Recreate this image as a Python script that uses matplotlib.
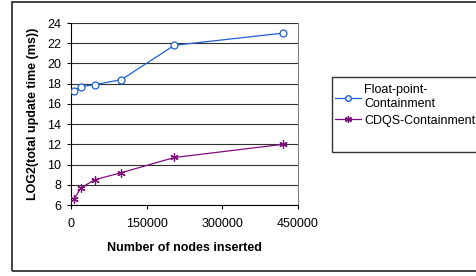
import matplotlib.pyplot as plt
from matplotlib.patches import Rectangle
from matplotlib.lines import Line2D

plt.rcParams['font.family'] = ['Liberation Sans', 'DejaVu Sans']

# dados
nodes = [6000, 20000, 47000, 100000, 205000, 420000]
float_point = [17.3, 17.7, 17.9, 18.4, 21.8, 23.0]
cdqs = [6.6, 7.7, 8.5, 9.2, 10.7, 12.0]

xticks = [0, 150000, 300000, 450000]
yticks = [6, 8, 10, 12, 14, 16, 18, 20, 22, 24]

fig = plt.figure(figsize=(4.77, 2.76), dpi=100)
ax = fig.add_axes([0.1488, 0.2572, 0.476, 0.6594])

c_blue = "#1f5fcf"
c_purple = "#7d0f7d"

ax.plot(nodes, float_point, color=c_blue, lw=0.9, marker="o", ms=5,
        mfc="white", mec=c_blue, mew=0.9, zorder=3)
ax.plot(nodes, cdqs, color=c_purple, lw=0.9, marker=(6, 2, 0), ms=6,
        mec=c_purple, mew=0.9, zorder=3)

ax.set_xlim(0, 450000)
ax.set_ylim(6, 24)
ax.set_xticks(xticks)
ax.set_yticks(yticks)
ax.set_xticklabels([str(v) for v in xticks])
ax.tick_params(labelsize=9, length=3, width=0.8, color="black")
ax.tick_params(axis="x", pad=6)
ax.tick_params(axis="y", pad=4)
ax.yaxis.grid(True, color="#303030", lw=0.8)
ax.set_axisbelow(True)

ax.spines["top"].set_visible(False)
ax.spines["right"].set_color("#808080")
ax.spines["left"].set_lw(0.8)
ax.spines["bottom"].set_lw(0.8)

ax.set_xlabel("Number of nodes inserted", fontsize=9, fontweight="bold", labelpad=9)
ax.set_ylabel("LOG2(total update time (ms))", fontsize=9, fontweight="bold", labelpad=6)

# moldura externa
fig.patches.append(Rectangle((0.025, 0.018), 1.2, 0.975, transform=fig.transFigure,
                             fill=False, ec="#222222", lw=1.2))

# legenda
fig.patches.append(Rectangle((0.696, 0.449), 0.4, 0.272, transform=fig.transFigure,
                             fill=False, ec="#333333", lw=1.0))
handles = [Line2D([], [], color=c_blue, lw=0.9, marker="o", ms=4, mfc="white", mec=c_blue),
           Line2D([], [], color=c_purple, lw=0.9, marker=(6, 2, 0), ms=5, mec=c_purple)]
fig.legend(handles, ["Float-point-\nContainment", "CDQS-Containment"],
           loc="upper left", bbox_to_anchor=(0.692, 0.712), frameon=False,
           fontsize=9, handlelength=2.1, handletextpad=0.25, labelspacing=0.35,
           borderaxespad=0)

fig.savefig("out.png", dpi=100)
